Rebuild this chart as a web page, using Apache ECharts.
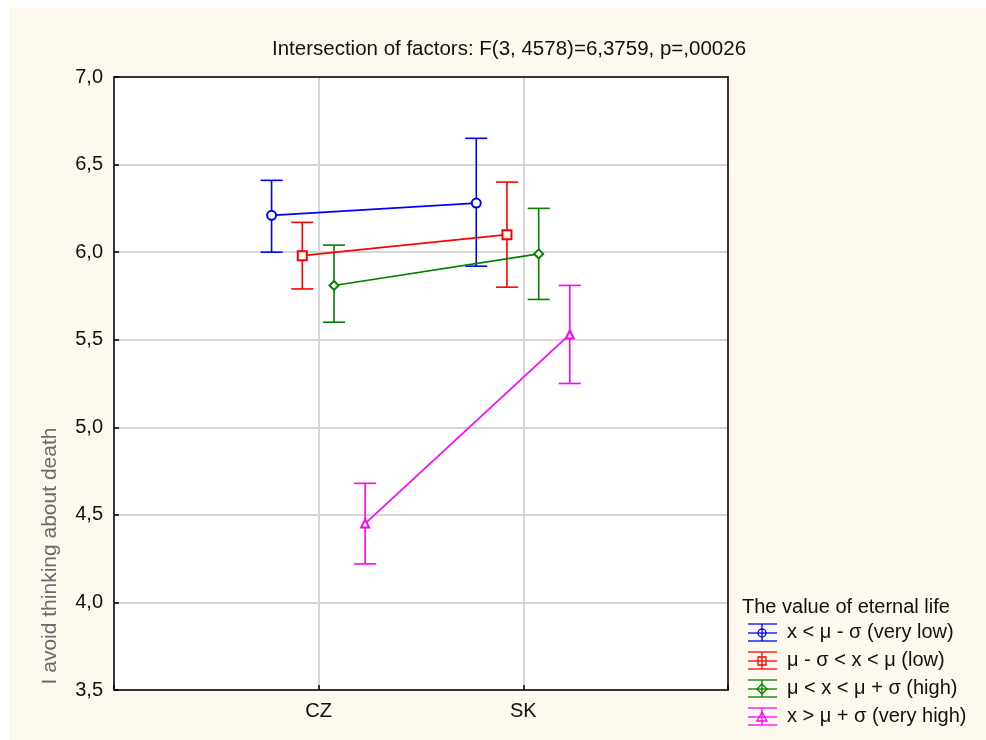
<!DOCTYPE html>
<html>
<head>
<meta charset="utf-8">
<script src="https://cdn.jsdelivr.net/npm/echarts@6/dist/echarts.min.js"></script>
<style>
  html, body { margin: 0; padding: 0; background: #fff; }
  #chart {
    width: 986px; height: 740px;
    background: linear-gradient(#fdf9ef, #fdf9ef) 9px 8px / 100% 100% no-repeat, #fff;
  }
</style>
</head>
<body>
<div id="chart"></div>
<script>
// data
var countries = ['CZ', 'SK'];
var groups = ['x < μ - σ (very low)', 'μ - σ < x < μ (low)', 'μ < x < μ + σ (high)', 'x > μ + σ (very high)'];
var meanCZ = [6.21, 5.98, 5.81, 4.45];
var meanSK = [6.28, 6.10, 5.99, 5.53];
var lowCZ = [6.00, 5.79, 5.60, 4.22];
var lowSK = [5.92, 5.80, 5.73, 5.25];
var highCZ = [6.41, 6.17, 6.04, 4.68];
var highSK = [6.65, 6.40, 6.25, 5.81];
var yTicks = [3.5, 4.0, 4.5, 5.0, 5.5, 6.0, 6.5, 7.0];

// styles
var colors = ['#0000ff', '#ff0000', '#008000', '#ff00ff'];
var symbols = ['emptyCircle', 'emptyRect', 'emptyDiamond', 'emptyTriangle'];
var dodge = [-0.23, -0.08, 0.075, 0.227];
var font = '"Liberation Sans", Arial, sans-serif';

var myChart = echarts.init(document.getElementById('chart'));

var series = [];
groups.forEach(function (g, i) {
    var pts = [
        [1 + dodge[i], meanCZ[i], lowCZ[i], highCZ[i]],
        [2 + dodge[i], meanSK[i], lowSK[i], highSK[i]]
    ];
    series.push({
        type: 'custom',
        name: g + ' err',
        silent: true,
        z: 3,
        data: pts,
        renderItem: function (params, api) {
            var x = api.value(0);
            var lo = api.coord([x, api.value(2)]);
            var hi = api.coord([x, api.value(3)]);
            var st = { stroke: colors[i], lineWidth: 1.6 };
            return {
                type: 'group',
                children: [
                    { type: 'line', shape: { x1: lo[0], y1: lo[1], x2: hi[0], y2: hi[1] }, style: st },
                    { type: 'line', shape: { x1: lo[0] - 11, y1: lo[1], x2: lo[0] + 11, y2: lo[1] }, style: st },
                    { type: 'line', shape: { x1: hi[0] - 11, y1: hi[1], x2: hi[0] + 11, y2: hi[1] }, style: st }
                ]
            };
        }
    });
    series.push({
        type: 'line',
        name: g,
        z: 4,
        data: pts.map(function (p) { return [p[0], p[1]]; }),
        symbol: symbols[i],
        symbolSize: i === 3 ? 8 : 9,
        lineStyle: { color: colors[i], width: 1.6 },
        itemStyle: { color: colors[i], borderWidth: 1.6 },
        animation: false
    });
});

// legend drawn as graphic
var legendEls = [{
    type: 'text', left: 742, top: 597,
    style: { text: 'The value of eternal life', font: '20px ' + font, fill: '#111' }
}];
groups.forEach(function (g, i) {
    var cy = 633 + i * 28;
    var st = { stroke: colors[i], lineWidth: 1.3, fill: 'none' };
    legendEls.push(
        { type: 'line', shape: { x1: 748, y1: cy - 9, x2: 777, y2: cy - 9 }, style: st },
        { type: 'line', shape: { x1: 748, y1: cy, x2: 777, y2: cy }, style: st },
        { type: 'line', shape: { x1: 748, y1: cy + 8, x2: 777, y2: cy + 8 }, style: st },
        { type: 'line', shape: { x1: 762, y1: cy - 9, x2: 762, y2: cy + 8 }, style: st }
    );
    var sym;
    var sst = { stroke: colors[i], lineWidth: 1.3, fill: 'none' };
    if (i === 0) sym = { type: 'circle', shape: { cx: 762, cy: cy, r: 4 }, style: sst };
    else if (i === 1) sym = { type: 'rect', shape: { x: 758, y: cy - 4, width: 8, height: 8 }, style: sst };
    else if (i === 2) sym = { type: 'polygon', shape: { points: [[762, cy - 5], [767, cy], [762, cy + 5], [757, cy]] }, style: sst };
    else sym = { type: 'polygon', shape: { points: [[762, cy - 5], [767, cy + 4], [757, cy + 4]] }, style: sst };
    legendEls.push(sym);
    legendEls.push({
        type: 'text', left: 787, top: cy - 11,
        style: { text: g, font: '20px ' + font, fill: '#111' }
    });
});
legendEls.push({
    type: 'text', x: 50, y: 556, rotation: Math.PI / 2,
    style: { text: 'I avoid thinking about death', font: '21px ' + font, fill: '#6b6b6b', align: 'center', verticalAlign: 'middle' }
});

myChart.setOption({
    animation: false,
    title: {
        text: 'Intersection of factors: F(3, 4578)=6,3759, p=,00026',
        left: 504, top: 34, textAlign: 'center',
        textStyle: { fontFamily: font, fontSize: 20.5, fontWeight: 'normal', color: '#111' }
    },
    grid: {
        left: 114, top: 77, right: 258, bottom: 50,
        show: true, backgroundColor: '#fff', borderWidth: 0
    },
    xAxis: [{
        type: 'value', min: 0, max: 3, interval: 1,
        axisLine: { onZero: false, lineStyle: { color: '#000', width: 1.5 } },
        axisTick: { inside: true, length: 5, lineStyle: { color: '#000', width: 1.5 } },
        axisLabel: {
            margin: 11, fontSize: 20, fontFamily: font, color: '#111',
            formatter: function (v) { return countries[v - 1] || ''; }
        },
        splitLine: { lineStyle: { color: '#d6d6d6', width: 2 } }
    }, {
        type: 'value', min: 0, max: 3, position: 'top',
        axisLine: { show: true, onZero: false, lineStyle: { color: '#000', width: 1.5 } },
        axisTick: { show: false }, axisLabel: { show: false }, splitLine: { show: false }
    }],
    yAxis: [{
        type: 'value', min: yTicks[0], max: yTicks[yTicks.length - 1], interval: 0.5,
        axisLine: { show: true, onZero: false, lineStyle: { color: '#000', width: 1.5 } },
        axisTick: { show: true, inside: true, length: 5, lineStyle: { color: '#000', width: 1.5 } },
        axisLabel: {
            margin: 11, fontSize: 20, fontFamily: font, color: '#111',
            formatter: function (v) { return v.toFixed(1).replace('.', ','); }
        },
        splitLine: { lineStyle: { color: '#d6d6d6', width: 2 } }
    }, {
        type: 'value', min: yTicks[0], max: yTicks[yTicks.length - 1], position: 'right',
        axisLine: { show: true, onZero: false, lineStyle: { color: '#000', width: 1.5 } },
        axisTick: { show: false }, axisLabel: { show: false }, splitLine: { show: false }
    }],
    graphic: legendEls,
    series: series
});
</script>
</body>
</html>
